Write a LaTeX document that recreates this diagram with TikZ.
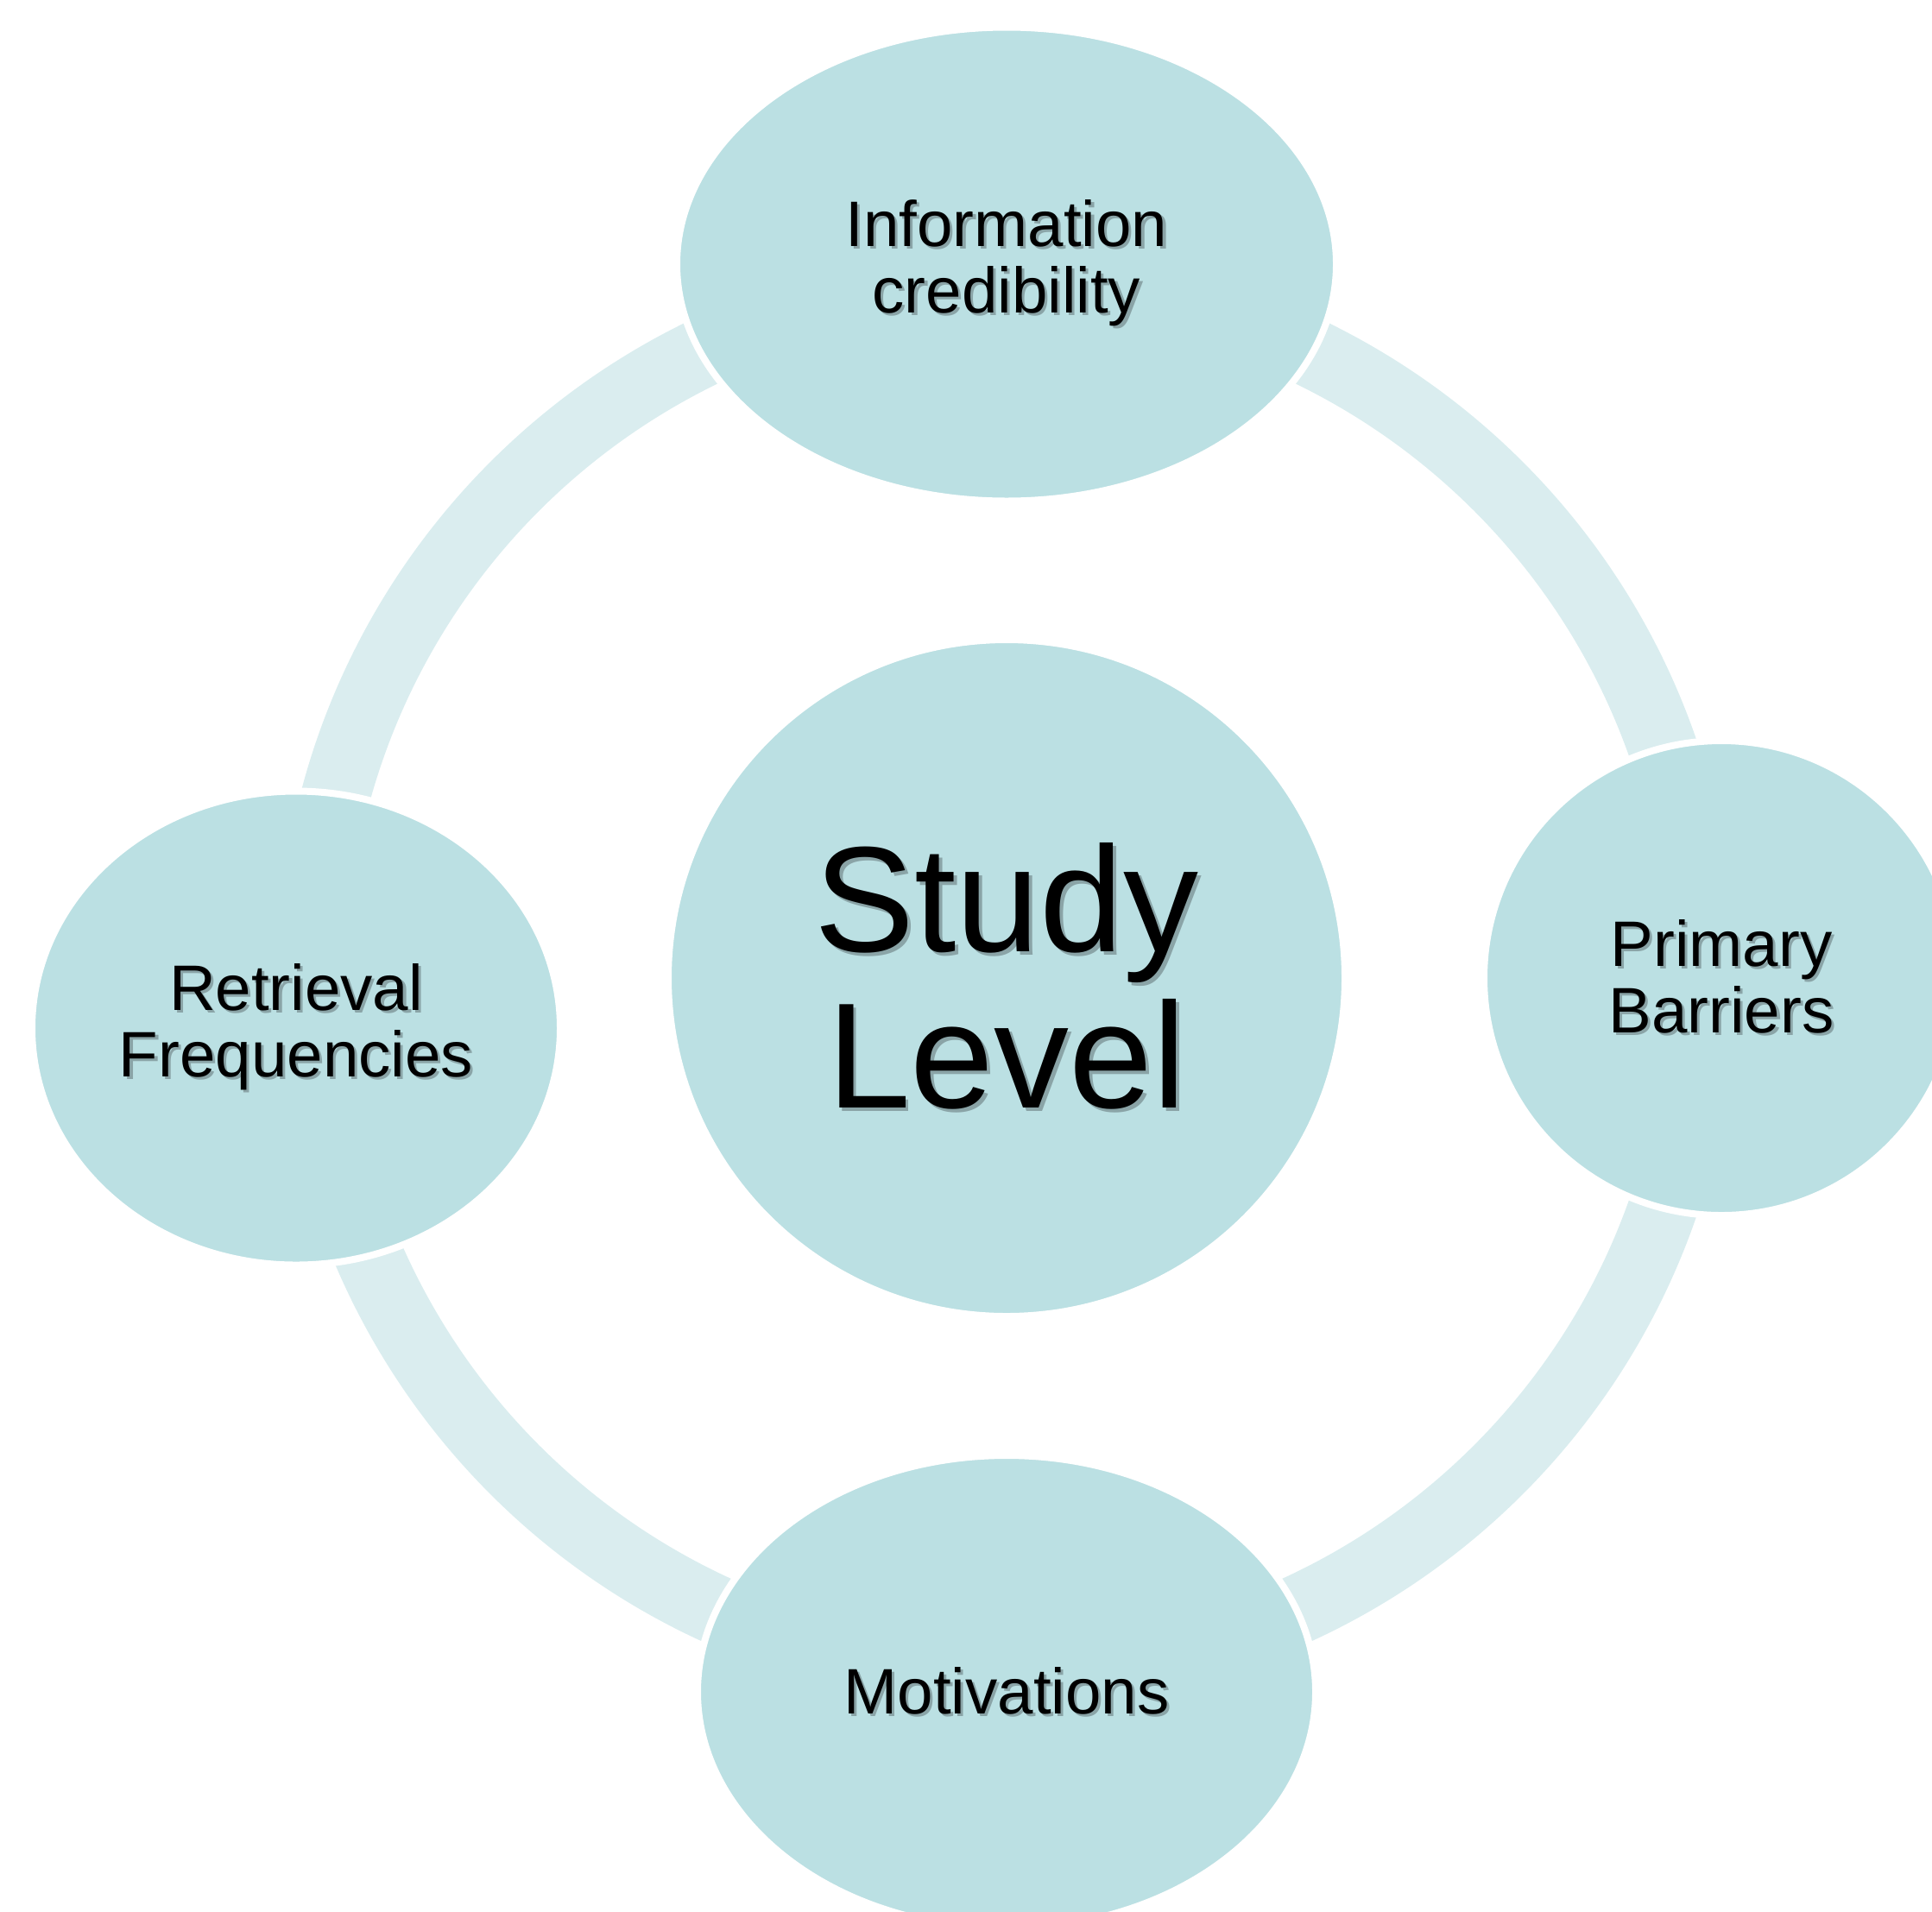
\documentclass[tikz,border=0pt]{standalone}
\usepackage{fontspec}
\setmainfont{Liberation Sans}
\usetikzlibrary{shapes.geometric}
\definecolor{nodefill}{RGB}{187,224,227}
\definecolor{ringfill}{RGB}{218,237,239}
\definecolor{textshadow}{RGB}{138,164,167}
% Text with a soft drop shadow; optional argument is the shift.
\newcommand{\shadowed}[2][0.9pt]{\leavevmode\rlap{\kern#1\raisebox{-#1}{\textcolor{textshadow}{#2}}}#2}
\tikzstyle{bubble}=[fill=nodefill, draw=white, line width=0.08cm, inner sep=0, outer sep=0, align=center,
                    font=\fontsize{21.2pt}{22pt}\selectfont]
\tikzstyle{hubbubble}=[bubble, circle, font=\fontsize{49.5pt}{51.5pt}\selectfont]
\tikzstyle{cbubble}=[bubble, circle]
\tikzstyle{ebubble}=[bubble, ellipse]
\tikzstyle{ringarc}=[draw=ringfill, line width=0.80cm]

\begin{document}
\begin{tikzpicture}
        \useasboundingbox (0, 0) rectangle (22.38, -22.14);
        \clip (0, 0) rectangle (22.38, -22.14);
        % the cycle runs under the outer bubbles
        \coordinate (ringN) at (11.66, -3.28);
        \coordinate (ringE) at (19.71, -11.33);
        \coordinate (ringS) at (11.66, -19.38);
        \coordinate (ringW) at (3.61, -11.33);
        \draw[ringarc] (ringN) to[bend left=45] (ringE) to[bend left=45] (ringS)
                               to[bend left=45] (ringW) to[bend left=45] (ringN);
        \node[hubbubble, minimum size=7.84cm]                     (hub)       at (11.66, -11.33) {\shadowed[1.1pt]{Study}\\\shadowed[1.1pt]{Level}};
        \node[ebubble, minimum width=7.64cm, minimum height=5.49cm] (info)      at (11.66, -3.06)  {\shadowed{Information}\\\shadowed{credibility}};
        \node[cbubble, minimum size=5.50cm]                       (barriers)  at (19.94, -11.33) {\shadowed{Primary}\\\shadowed{Barriers}};
        \node[ebubble, minimum width=7.16cm, minimum height=5.48cm] (motiv)     at (11.66, -19.60) {\shadowed{Motivations}};
        \node[ebubble, minimum width=6.12cm, minimum height=5.49cm] (retrieval) at (3.43, -11.91)  {\shadowed{Retrieval}\\\shadowed{Frequencies}};
    \end{tikzpicture}
\end{document}
